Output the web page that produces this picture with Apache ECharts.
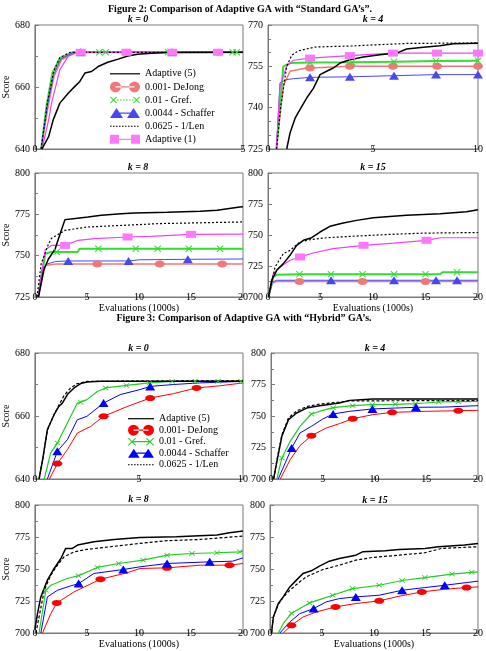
<!DOCTYPE html>
<html><head><meta charset="utf-8">
<script src="https://cdn.jsdelivr.net/npm/echarts/dist/echarts.min.js"></script>
<style>html,body{margin:0;padding:0;background:#fff}#c{width:486px;height:651px}</style>
</head><body><div id="c"></div><script>
const FONT = '"Liberation Serif","Times New Roman",serif';

// ---------- Figure 2 : "Standard GA's" ----------
// k = 0
const f2k0_a5  = [[0.17,640],[0.33,644],[0.44,649.4],[0.6,654.8],[0.8,658],[0.96,660.2],[1.08,661.8],[1.2,664.5],[1.36,665],[1.52,666.6],[1.75,668],[2.0,669],[2.23,670],[2.47,670.6],[2.8,670.9],[3.2,671.1],[5,671.2]];
const f2k0_dj  = [[0.15,640],[0.31,653],[0.46,663.5],[0.64,668.8],[0.95,671],[1.1,671.2],[2.2,671.2],[3.3,671.2],[4.4,671.2],[5,671.2]];
const f2k0_djM = [1.1,2.2,3.3,4.4];
const f2k0_gr  = [[0.15,640],[0.28,654],[0.42,664.5],[0.6,669.3],[0.9,671.2],[1.55,671.2],[1.7,671.2],[3.2,671.2],[3.3,671.2],[4.75,671.2],[4.85,671.2],[5,671.2]];
const f2k0_grM = [1.55,1.7,3.2,3.3,4.75,4.85];
const f2k0_sc  = [[0.15,640],[0.3,654],[0.45,664],[0.62,669],[0.9,671],[1.1,671.2],[3.3,671.2],[5,671.2]];
const f2k0_scM = [1.1,3.3];
const f2k0_len = [[0.15,640],[0.3,655],[0.45,665],[0.6,669.5],[0.85,671.2],[5,671.2]];
const f2k0_a1  = [[0.17,640],[0.33,649.4],[0.4,654.8],[0.6,665.6],[0.8,669.9],[1.0,671],[1.1,671.2],[2.2,671.2],[3.3,671.2],[4.4,671.2],[5,671.2]];
const f2k0_a1M = [1.1,2.2,3.3,4.4];
// k = 4
const f2k4_a5  = [[0.89,725],[1.05,730.8],[1.29,736.2],[1.52,739.3],[1.84,743.5],[2.16,747],[2.48,752],[2.79,753.2],[3.11,754.4],[3.43,756.2],[3.9,757.4],[4.54,758.4],[5.33,759.2],[6.13,759.8],[6.6,761.3],[7.4,761.9],[8.19,762.5],[8.83,763.2],[10,763.4]];
const f2k4_dj  = [[0.4,725],[0.73,748],[1.05,753.2],[1.84,754.4],[2.0,754.4],[3.9,755],[5.95,755],[8.05,755],[10,755]];
const f2k4_djM = [2.0,3.9,5.95,8.05,10];
const f2k4_gr  = [[0.4,725],[0.73,755],[1.05,756.2],[2.0,756.4],[4,756.5],[6,756.7],[8,756.9],[10,757]];
const f2k4_grM = [2,4,6,8,10];
const f2k4_sc  = [[0.4,725],[0.57,749],[0.89,750.2],[1.21,750.5],[2.0,751],[3.9,751.2],[6,751.6],[8,752],[10,752]];
const f2k4_scM = [2.0,3.9,6,8,10];
const f2k4_len = [[0.41,725],[0.6,740],[0.89,755],[1.13,759],[1.44,760.6],[2.24,762],[4,762.4],[5.1,762.8],[6.6,763.3],[10,763.5]];
const f2k4_a1  = [[0.4,725],[0.57,747.7],[0.89,755],[1.21,757.2],[2.0,758],[3.9,758.9],[5.95,759.8],[8.05,759.8],[10,759.8]];
const f2k4_a1M = [2.0,3.9,5.95,8.05,10];
// k = 8
const f2k8_a5  = [[0.35,725],[0.83,741],[1.3,748],[1.94,754],[2.41,763],[2.89,771.8],[3.68,772.4],[5.11,773.4],[6.38,774.4],[8.29,775.4],[9.56,775.8],[12.73,776.2],[15.9,776.8],[17.5,777.4],[19.7,779.4],[20,779.6]];
const f2k8_dj  = [[0.3,725],[1.0,744],[2,745],[6,745],[12,745],[18,745],[20,745]];
const f2k8_djM = [6,12,18];
const f2k8_gr  = [[0.3,725],[1.0,751],[1.5,752.2],[2.1,752.2],[4.1,752.2],[4.3,754.2],[6.1,754.2],[9.7,754.2],[11.8,754.2],[14.8,754.2],[17.8,754.2],[20,754.2]];
const f2k8_grM = [2.1,6.1,9.7,11.8,14.8,17.8];
const f2k8_sc  = [[0.3,725],[0.7,742],[1.2,745],[2,746.5],[3.2,746.8],[9,746.8],[10,747.5],[14.7,747.8],[20,748]];
const f2k8_scM = [3.2,9,14.7];
const f2k8_len = [[0.2,725],[0.6,745],[1.3,757],[1.6,760.5],[2.9,765.3],[5,767.3],[9,768.5],[12,769.4],[20,770.4]];
const f2k8_a1  = [[0.3,725],[1.0,753.6],[1.63,756.3],[2.9,756.2],[4.16,759.3],[5.75,760.3],[8.9,761.3],[11.1,761.7],[15,762.9],[20,763]];
const f2k8_a1M = [2.9,8.9,15];
// k = 15
const f2k15_a5  = [[0.05,700],[0.35,713.4],[0.83,721.5],[1.46,726.9],[2.1,733.6],[2.73,741.7],[3.37,745.7],[4.16,747.8],[4.95,752.4],[5.9,757],[7.17,759.7],[8.44,761.8],[10.03,764],[11.6,765],[13.2,765.9],[16.4,767.2],[18.9,768.8],[20,770.4]];
const f2k15_dj  = [[0.05,700],[0.4,711],[0.8,712.5],[3,712.5],[9,712.5],[15,712.5],[20,712.5]];
const f2k15_djM = [3,9,15];
const f2k15_gr  = [[0.05,700],[0.5,716.1],[0.83,718],[3,718.3],[6,718.3],[9,718.3],[12,718.3],[15,718.3],[16.4,718.3],[16.6,719.9],[18,719.9],[20,719.9]];
const f2k15_grM = [3,6,9,12,15,18];
const f2k15_sc  = [[0.05,700],[0.4,712],[0.8,713.5],[6,713.5],[12,713.5],[16,713.5],[18,713.5],[20,713.5]];
const f2k15_scM = [6,12,16,18];
const f2k15_len = [[0.05,700],[0.67,724.2],[1.46,735],[2.1,737.6],[3.05,744.4],[4.0,746.2],[5.6,747.8],[7.8,748.9],[11.6,750.5],[14.8,751.5],[20,752]];
const f2k15_a1  = [[0.05,700],[0.5,718.8],[1.14,724.2],[2.1,729.6],[3.05,732.3],[4.3,735.5],[6.2,739],[9.1,741.7],[11.97,743.5],[15.1,745.7],[16.4,747.8],[20,747.8]];
const f2k15_a1M = [3.05,9.1,15.1];

// ---------- Figure 3 : "Hybrid" GA's ----------
const f3k0_a5  = [[0.2,640],[0.37,646.1],[0.6,655.7],[0.92,660.4],[1.16,663.1],[1.32,664.1],[1.56,666.8],[1.88,668.9],[2.2,670.3],[2.5,670.8],[3.15,671],[10,671]];
const f3k0_len = [[0.2,640],[0.37,646],[0.6,655.5],[0.92,660.5],[1.2,664],[1.4,666.5],[1.7,668.8],[2.0,670.2],[2.5,671],[10,671.2]];
const f3k0_gr  = [[0.45,640],[0.76,648.3],[1.08,651.4],[1.56,657.8],[2.04,664.1],[2.2,664.4],[2.5,665.2],[3.0,667.8],[3.4,668.9],[4.4,669.7],[5.5,670.5],[6.6,671],[7.7,671],[8.8,671],[9.9,671],[10,671]];
const f3k0_grM = [1.08,2.2,3.4,4.4,5.5,6.6,7.7,8.8,9.9];
const f3k0_sc  = [[0.6,640],[1.08,648.8],[1.56,652.5],[2.04,658.8],[2.5,659.9],[3.3,664.1],[4.1,666.8],[5.06,668.4],[5.54,669.4],[6.66,670],[7.9,670.5],[10,671]];
const f3k0_scM = [1.08,3.3,5.54];
const f3k0_dj  = [[0.7,640],[1.08,644.9],[1.56,649.3],[2.04,654.6],[2.68,656.7],[3.3,659.9],[4.43,663],[5.54,665.7],[6.66,667.1],[7.77,668.9],[8.9,669.6],[10,670.5]];
const f3k0_djM = [1.08,3.3,5.54,7.77];

const f3k4_a5  = [[0.25,700],[0.57,714],[1.05,733.9],[1.69,747.1],[2.48,752.4],[3.44,756.3],[4.7,758.2],[6.6,760.3],[7.6,762.4],[9.8,763.5],[20,763.5]];
const f3k4_len = [[0.25,700],[0.57,715],[1.05,735],[1.69,748.5],[2.48,754],[3.44,757.5],[4.7,759.5],[6.6,761],[7.6,762],[20,762.3]];
const f3k4_gr  = [[0.57,700],[1.05,716.7],[1.85,729.9],[2.8,741.8],[3.9,751.6],[5.0,754.5],[6.0,756.6],[7.9,758.2],[9.8,759],[12,759.3],[13.95,759.8],[14.9,760.3],[16.2,761.1],[18.1,761.4],[20,761.6]];
const f3k4_grM = [1.05,3.9,6.0,7.9,9.8,12,13.95,16.2,18.1];
const f3k4_sc  = [[0.7,700],[2.0,724.6],[2.8,736.5],[3.9,741.8],[5.0,747.6],[6.0,751.6],[7.6,753.7],[9.8,755.6],[12,756.3],[14,756.9],[16.8,757.1],[20,758.2]];
const f3k4_scM = [2.0,6.0,9.8,14];
const f3k4_dj  = [[0.9,700],[1.85,715.3],[2.8,726.5],[3.9,734.4],[5.35,740.5],[6.6,743.9],[7.9,747.9],[9.8,751],[11.7,752.9],[14.9,753.7],[18.1,754.2],[20,754.5]];
const f3k4_djM = [3.9,7.9,11.7,18.1];

const f3k8_a5  = [[0,703],[0.25,715.1],[0.57,728.2],[1.2,741.3],[1.85,750.4],[2.5,758.2],[2.96,766.1],[3.6,766.1],[4.1,768.7],[5.67,771.3],[7.6,773.1],[10.1,774.7],[13.6,775.2],[17.5,776.5],[18.7,778.3],[20,779.6]];
const f3k8_len = [[0.1,700],[0.9,733.4],[1.53,745.2],[2.17,753],[2.8,759.5],[3.76,763.4],[5.0,765.3],[7.26,767.4],[10.1,770],[12.7,772.1],[15.9,773.1],[20,775.7]];
const f3k8_gr  = [[0.4,700],[1.05,733.4],[1.53,737.3],[3.1,742.6],[4.2,744.8],[6.0,751.2],[8.06,754.3],[10.4,756.9],[12.7,760.8],[15.1,762.1],[17.5,762.7],[19.7,763.4],[20,764]];
const f3k8_grM = [1.05,4.2,6.0,8.06,10.4,12.7,15.1,17.5,19.7];
const f3k8_sc  = [[0.57,700],[1.2,728.2],[2.17,733.4],[3.44,736.8],[4.2,738.6],[5.67,746.5],[8.5,749.6],[10.1,751.7],[12.7,754.3],[16.8,755.6],[19,756.1],[20,758.7]];
const f3k8_scM = [4.2,8.5,12.7,16.8];
const f3k8_dj  = [[0.73,700],[1.53,715.1],[2.1,723.5],[3.76,732.1],[6.3,742],[8.85,747],[10.1,750.4],[12.7,750.9],[15.9,753],[18.7,753],[20,754.3]];
const f3k8_djM = [2.1,6.3,12.7,18.7];

const f3k15_a5  = [[0.15,700],[0.32,712.5],[0.8,723],[1.27,728.2],[1.9,736],[2.54,741.3],[3.17,746.5],[3.97,748.6],[4.76,752.2],[5.7,756.1],[6.67,758.2],[8.25,760.8],[8.9,763.4],[11.1,764.2],[12.4,765.3],[14.9,766.1],[16.2,767.4],[18.7,768.7],[20,770]];
const f3k15_len = [[0.15,700],[0.32,712],[0.8,722.5],[1.27,728],[1.9,733.4],[2.86,740],[3.5,743.9],[5.08,749.6],[6.67,753],[8.25,756.9],[9.84,759],[12.4,760.8],[14.9,762.7],[16.5,766.1],[20,767.4]];
const f3k15_gr  = [[0.8,700],[1.27,707.3],[2.06,715.4],[3.8,723.5],[4.76,726.1],[6.03,729.5],[7.94,734.7],[10.5,737.3],[12.7,741],[14.9,743.3],[17.5,746],[19.4,747.4],[20,747.8]];
const f3k15_grM = [2.06,3.8,6.03,7.94,10.5,12.7,14.9,17.5,19.4];
const f3k15_sc  = [[0.95,700],[1.9,708.6],[2.86,715.1],[4.2,719.1],[5.4,724.3],[6.67,726.9],[8.25,728.2],[10.5,729.5],[12.7,733.4],[14.9,735.5],[16.8,737.3],[20,740.5]];
const f3k15_scM = [4.2,8.25,12.7,16.8];
const f3k15_dj  = [[1.27,700],[2.06,706],[3.17,712.5],[4.44,716.4],[6.3,720.4],[8.25,723],[10.5,725.1],[12.4,728.7],[14.6,732.1],[16.8,734.2],[18.9,735.5],[20,736]];
const f3k15_djM = [2.06,6.3,10.5,14.6,18.9];

// axis ranges / tick labels
const xRanges = [[0,5],[0,10],[0,20],[0,20],[0,10],[0,20],[0,20],[0,20]];
const xStep = 5;
const yRanges = [[640,680],[725,770],[725,800],[700,800],[640,680],[700,800],[700,800],[700,800]];
const ySteps  = [20,15,25,25,20,25,25,25];
const yMinor  = [2,3,2,2,2,2,2,2];
const panelTitles = ['k = 0','k = 4','k = 8','k = 15','k = 0','k = 4','k = 8','k = 15'];
const legendLabels = {f2a5:'Adaptive (5)',f2dj:'0.001- DeJong',f2gr:'0.01 - Gref.',f2sc:'0.0044 - Schaffer',f2len:'0.0625 - 1/Len',f2a1:'Adaptive (1)',
  f3a5:'Adaptive (5)',f3dj:'0.001- DeJong',f3gr:'0.01 - Gref.',f3sc:'0.0044 - Schaffer',f3len:'0.0625 - 1/Len'};

// ---------- layout / style ----------
const grids = [[33,25,210,124],[268,25,210,124],[33,173,210,124],[268,173,210,124],
               [34,353,209,126],[271,353,209,126],[34,505,209,128],[270,505,210,128]];
const titlePos = [[138,19],[373,19],[138,167.5],[373,167.5],[138.5,348.5],[375,348.5],[138.5,499.5],[375,500]];
const XPATH = 'path://M0,1 L1,0 L5,4 L9,0 L10,1 L6,5 L10,9 L9,10 L5,6 L1,10 L0,9 L4,5 Z';
const st2 = {
  dj:{name:'f2dj',color:'#f07878',width:1.5,sym:'circle',size:[10,7]},
  gr:{name:'f2gr',color:'#33dd33',width:2,sym:XPATH,size:[7,7]},
  sc:{name:'f2sc',color:'#4848f0',width:1,sym:'triangle',size:[10,8]},
  a1:{name:'f2a1',color:'#ee44ee',fill:'#ff77ff',width:1.2,sym:'rect',size:[10,7]},
  len:{name:'f2len',color:'#000',width:1.2,type:[2,2]},
  a5:{name:'f2a5',color:'#000',width:1.5}
};
const st3 = {
  dj:{name:'f3dj',color:'#ff0000',width:1,sym:'circle',size:[10,6]},
  gr:{name:'f3gr',color:'#22cc22',width:1.2,sym:XPATH,size:[6,5]},
  sc:{name:'f3sc',color:'#0000ff',width:1,sym:'triangle',size:[10,8]},
  len:{name:'f3len',color:'#000',width:1.2,type:[3,2]},
  a5:{name:'f3a5',color:'#000',width:1.5}
};

function mk(i, st, pts, marks) {
  return {
    type:'line', name:st.name, xAxisIndex:i, yAxisIndex:i,
    data: pts.map(p => (marks && marks.indexOf(p[0]) >= 0)
      ? {value:p, symbol:st.sym, symbolSize:st.size}
      : {value:p, symbol:'none'}),
    symbol:'circle', showSymbol:true, showAllSymbol:true,
    lineStyle:{color:st.color, width:st.width, type:st.type || 'solid'},
    itemStyle:{color:st.fill || st.color, borderWidth:0},
    emphasis:{disabled:true}, silent:true, animation:false
  };
}
const P2 = [
  [f2k0_dj,f2k0_djM,f2k0_gr,f2k0_grM,f2k0_sc,f2k0_scM,f2k0_a1,f2k0_a1M,f2k0_len,f2k0_a5],
  [f2k4_dj,f2k4_djM,f2k4_gr,f2k4_grM,f2k4_sc,f2k4_scM,f2k4_a1,f2k4_a1M,f2k4_len,f2k4_a5],
  [f2k8_dj,f2k8_djM,f2k8_gr,f2k8_grM,f2k8_sc,f2k8_scM,f2k8_a1,f2k8_a1M,f2k8_len,f2k8_a5],
  [f2k15_dj,f2k15_djM,f2k15_gr,f2k15_grM,f2k15_sc,f2k15_scM,f2k15_a1,f2k15_a1M,f2k15_len,f2k15_a5]
];
const P3 = [
  [f3k0_dj,f3k0_djM,f3k0_gr,f3k0_grM,f3k0_sc,f3k0_scM,f3k0_len,f3k0_a5],
  [f3k4_dj,f3k4_djM,f3k4_gr,f3k4_grM,f3k4_sc,f3k4_scM,f3k4_len,f3k4_a5],
  [f3k8_dj,f3k8_djM,f3k8_gr,f3k8_grM,f3k8_sc,f3k8_scM,f3k8_len,f3k8_a5],
  [f3k15_dj,f3k15_djM,f3k15_gr,f3k15_grM,f3k15_sc,f3k15_scM,f3k15_len,f3k15_a5]
];
const series = [];
P2.forEach((d,i) => {
  series.push(mk(i,st2.dj,d[0],d[1]), mk(i,st2.gr,d[2],d[3]), mk(i,st2.sc,d[4],d[5]),
              mk(i,st2.a1,d[6],d[7]), mk(i,st2.len,d[8]), mk(i,st2.a5,d[9]));
});
P3.forEach((d,j) => {
  const i = j + 4;
  series.push(mk(i,st3.dj,d[0],d[1]), mk(i,st3.gr,d[2],d[3]), mk(i,st3.sc,d[4],d[5]),
              mk(i,st3.len,d[6]), mk(i,st3.a5,d[7]));
});

// legend icons: line with a marker at each end
function markerPath(m, cx, cy, r, h) {
  if (m === 'circle') return `M${cx-r},${cy} A${r},${r} 0 1 0 ${cx+r},${cy} A${r},${r} 0 1 0 ${cx-r},${cy} Z `;
  if (m === 'rect') return `M${cx-r},${cy-r} L${cx+r},${cy-r} L${cx+r},${cy+r} L${cx-r},${cy+r} Z `;
  if (m === 'triangle') return `M${cx},${cy-h} L${cx+r},${cy+h} L${cx-r},${cy+h} Z `;
  if (m === 'x') { const s=r, t=0.7;
    const pts=[[-s,-s+t],[-s+t,-s],[0,-t],[s-t,-s],[s,-s+t],[t,0],[s,s-t],[s-t,s],[0,t],[-s+t,s],[-s,s-t],[-t,0]];
    return 'M' + pts.map(p => `${cx+p[0]},${cy+p[1]}`).join(' L') + ' Z '; }
  return '';
}
function icon(W, H, m, line, r, h, inset) {
  const cy = H/2; let p = `M0,0 M${W},${H} `;
  const c1 = inset, c2 = W - inset;
  const a = m ? c1 : 0, b = m ? c2 : W;
  if (line === 'solid') p += `M${a},${cy-0.6} L${b},${cy-0.6} L${b},${cy+0.6} L${a},${cy+0.6} Z `;
  if (line === 'dot') for (let x = a + (m ? r : 0); x < b - (m ? r : 0) - 0.5; x += 3) {
    const e = x + 1.6; p += `M${x},${cy-0.5} L${e},${cy-0.5} L${e},${cy+0.5} L${x},${cy+0.5} Z `; }
  if (m) { p += markerPath(m, c1, cy, r, h); p += markerPath(m, c2, cy, r, h); }
  return 'path://' + p;
}
const W2 = 30, H2 = 11, W3 = 26, H3 = 11;
const legend2 = {
  data:[
    {name:'f2a5', icon:icon(W2,H2,null,'solid')},
    {name:'f2dj', icon:icon(W2,H2,'circle','solid',5.5,0,5.5)},
    {name:'f2gr', icon:icon(W2,H2,'x','dot',3.5,0,3.5)},
    {name:'f2sc', icon:icon(W2,H2,'triangle','solid',6.5,5,6.5)},
    {name:'f2len', icon:icon(W2,H2,null,'dot')},
    {name:'f2a1', icon:icon(W2,H2,'rect','solid',4.5,0,4.5)}
  ],
  left:110, top:68.3, orient:'vertical', itemWidth:W2, itemHeight:H2, itemGap:2.1, padding:0,
  formatter:n => legendLabels[n], selectedMode:false,
  itemStyle:{borderWidth:0}, textStyle:{fontFamily:FONT, fontSize:10, color:'#000'}
};
const legend3 = {
  data:[
    {name:'f3a5', icon:icon(W3,H3,null,'solid')},
    {name:'f3dj', icon:icon(W3,H3,'circle','solid',5.5,0,5.5)},
    {name:'f3gr', icon:icon(W3,H3,'x','solid',4,0,4)},
    {name:'f3sc', icon:icon(W3,H3,'triangle','solid',5.8,4.5,5.8)},
    {name:'f3len', icon:icon(W3,H3,null,'dot')}
  ],
  left:128, top:413.2, orient:'vertical', itemWidth:W3, itemHeight:H3, itemGap:0.5, padding:0,
  formatter:n => legendLabels[n], selectedMode:false,
  itemStyle:{borderWidth:0}, textStyle:{fontFamily:FONT, fontSize:10, color:'#000'}
};

const AX = '#7a7a7a';
const option = {
  animation:false,
  backgroundColor:'#fff',
  grid: grids.map(g => ({left:g[0], top:g[1], width:g[2], height:g[3], show:true, borderColor:AX, borderWidth:1, backgroundColor:'transparent'})),
  xAxis: grids.map((g,i) => ({
    type:'value', gridIndex:i, min:xRanges[i][0], max:xRanges[i][1], interval:xStep,
    axisLine:{show:true, lineStyle:{color:AX}},
    axisTick:{show:true, inside:true, length:3, lineStyle:{color:AX}},
    splitLine:{show:false},
    axisLabel:{margin:-5, color:'#000', fontFamily:FONT, fontSize:10},
    name:(i===2||i===3||i===6||i===7) ? 'Evaluations (1000s)' : '',
    nameLocation:'middle', nameGap:2,
    nameTextStyle:{fontFamily:FONT, fontSize:10, color:'#000'}
  })),
  yAxis: grids.map((g,i) => ({
    type:'value', gridIndex:i, min:yRanges[i][0], max:yRanges[i][1], interval:ySteps[i],
    axisLine:{show:true, lineStyle:{color:AX}},
    axisTick:{show:true, inside:true, length:4, lineStyle:{color:AX}},
    minorTick:{show:true, splitNumber:yMinor[i], length:3, lineStyle:{color:AX}},
    splitLine:{show:false}, minorSplitLine:{show:false},
    axisLabel:{margin:5, color:'#000', fontFamily:FONT, fontSize:10},
    name:(i%2===0) ? 'Score' : '', nameLocation:'middle', nameGap:20,
    nameTextStyle:{fontFamily:FONT, fontSize:10, color:'#000'}
  })),
  legend:[legend2, legend3],
  graphic: [
    {type:'text', x:240, y:9.5, style:{text:'Figure 2: Comparison of Adaptive GA with “Standard GA’s”.', font:'bold 10px '+FONT, fill:'#000', align:'center', verticalAlign:'middle'}},
    {type:'text', x:244, y:318, style:{text:'Figure 3: Comparison of Adaptive GA with “Hybrid” GA’s.', font:'bold 10px '+FONT, fill:'#000', align:'center', verticalAlign:'middle'}}
  ].concat(titlePos.map((p,i) => ({type:'text', x:p[0], y:p[1], style:{text:panelTitles[i], font:'italic bold 10px '+FONT, fill:'#000', align:'center', verticalAlign:'middle'}}))),
  series: series
};
const chart = echarts.init(document.getElementById('c'), null, {renderer:'canvas'});
chart.setOption(option);
</script></body></html>
